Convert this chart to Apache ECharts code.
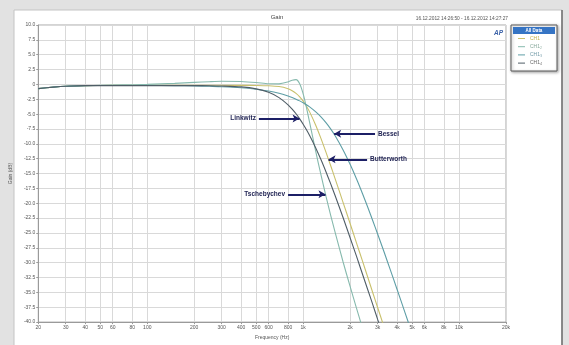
<!DOCTYPE html>
<html>
<head>
<meta charset="utf-8">
<script src="https://cdn.jsdelivr.net/npm/echarts@6/dist/echarts.min.js"></script>
<style>
  html, body { margin: 0; padding: 0; background: #e2e2e2; }
  #chart { width: 569px; height: 345px; }
</style>
</head>
<body>
<div id="chart"></div>
<script>
// Frequency points (Hz) shared by every channel
const freqs = [20, 25, 30, 40, 50, 70, 100, 150, 200, 250, 300, 400, 500, 600, 700, 800, 850, 900, 950,
  1000, 1050, 1100, 1200, 1300, 1400, 1500, 1600, 1800, 2000, 2200, 2400, 2600, 2800, 3000, 3300, 3600,
  4000, 4500, 5000];

// Gain in dB for each filter type (null = below the plotted range)
const butterworth = [-0.7, -0.45, -0.3, -0.2, -0.18, -0.15, -0.15, -0.15, -0.15, -0.15, -0.15, -0.16, -0.17,
  -0.22, -0.36, -0.72, -1.05, -1.5, -2.08, -2.8, -3.66, -4.62, -6.78, -9.08, -11.4, -13.65, -15.8, -19.8,
  -23.4, -26.7, -29.7, -32.5, -35.1, -37.5, -40.8, null, null, null, null];

const tschebychev = [-0.7, -0.45, -0.3, -0.2, -0.15, -0.08, 0.0, 0.18, 0.34, 0.46, 0.53, 0.5, 0.33,
  0.12, 0.1, 0.42, 0.7, 0.8, 0.1, -1.6, -3.9, -6.4, -11.1, -15.2, -18.8, -22.0, -24.8, -29.8,
  -34.0, -37.7, -41.0, null, null, null, null, null, null, null, null];

const bessel = [-0.7, -0.45, -0.3, -0.2, -0.18, -0.17, -0.18, -0.2, -0.25, -0.32, -0.38, -0.56, -0.82,
  -1.12, -1.5, -1.95, -2.2, -2.48, -2.77, -3.08, -3.42, -3.78, -4.58, -5.45, -6.43, -7.48, -8.6, -10.98,
  -13.45, -15.93, -18.37, -20.72, -22.98, -25.13, -28.17, -31.0, -34.47, -38.4, -41.95];

const linkwitz = [-0.7, -0.45, -0.3, -0.2, -0.2, -0.2, -0.2, -0.2, -0.2, -0.22, -0.27, -0.42, -0.75,
  -1.33, -2.22, -3.43, -4.15, -4.94, -5.79, -6.69, -7.63, -8.6, -10.6, -12.65, -14.7, -16.7, -18.65, -22.35,
  -25.8, -28.95, -31.9, -34.6, -37.1, -39.5, -42.8, null, null, null, null];

// Channel names and labelled frequency ticks
const channels = ['CH1', 'CH1\u2082', 'CH1\u2083', 'CH1\u2084'];
const freqTicks = [20, 30, 40, 50, 60, 80, 100, 200, 300, 400, 500, 600, 800, 1000, 2000, 3000, 4000,
  5000, 6000, 8000, 10000, 20000];

// Arrow annotations: [label, start freq, tip freq, gain]
const annotations = {
  linkwitz: ['Linkwitz', 520, 948, -5.75],
  bessel: ['Bessel', 2890, 1580, -8.3],
  butterworth: ['Butterworth', 2570, 1455, -12.6],
  tschebychev: ['Tschebychev', 800, 1390, -18.5]
};

const colors = {
  butterworth: '#c9c06c',
  tschebychev: '#86b9ad',
  bessel: '#5e9ea6',
  linkwitz: '#4f5d66'
};
const legendText = ['#c2b24a', '#86a89a', '#6f98a6', '#666'];

function pairs(vals) {
  const out = [];
  freqs.forEach((f, i) => { if (vals[i] !== null) out.push([f, vals[i]]); });
  return out;
}

function arrow(key) {
  const a = annotations[key];
  return {
    silent: true,
    symbol: ['none', 'arrow'],
    symbolSize: [6, 7],
    animation: false,
    lineStyle: { color: '#1c1f66', width: 1.8, type: 'solid' },
    label: {
      show: true, position: 'start', formatter: a[0], distance: 3,
      color: '#1c1f50', fontSize: 6.5, fontWeight: 'bold', fontFamily: 'Liberation Sans'
    },
    data: [[{ coord: [a[1], a[3]] }, { coord: [a[2], a[3]] }]]
  };
}

function line(name, key, vals) {
  return {
    name: name, type: 'line', data: pairs(vals), smooth: 0.25, symbol: 'none',
    lineStyle: { color: colors[key], width: 1.1 }, itemStyle: { color: colors[key] },
    markLine: arrow(key), animation: false
  };
}

const chart = echarts.init(document.getElementById('chart'), null, { renderer: 'canvas' });
const font = 'Liberation Sans';

chart.setOption({
  backgroundColor: '#e2e2e2',
  textStyle: { fontFamily: font },
  title: {
    text: 'Gain', left: 272, top: 9, textAlign: 'center',
    textStyle: { fontSize: 6, fontWeight: 'normal', color: '#444', fontFamily: font }
  },
  legend: {
    z: 20, zlevel: 0, padding: 0,
    orient: 'vertical', left: 518, top: 36, itemGap: 3.2, itemWidth: 7, itemHeight: 1, icon: 'rect',
    textStyle: { fontSize: 5, fontFamily: font },
    data: channels.map((c, i) => ({ name: c, textStyle: { color: legendText[i] } }))
  },
  graphic: [
    { type: 'rect', z: -1, shape: { x: 14, y: 10, width: 548, height: 340 },
      style: { fill: '#ffffff', stroke: '#c4c4c4', lineWidth: 1 } },
    { type: 'line', z: -1, shape: { x1: 562, y1: 10, x2: 562, y2: 345 },
      style: { stroke: '#6d6d6d', lineWidth: 1.5 } },
    { type: 'text', x: 508, y: 16, style: { text: '16.12.2012 14:26:50 - 16.12.2012 14:27:27',
      align: 'right', fontSize: 4.8, fill: '#555', fontFamily: font } },
    { type: 'text', x: 494, y: 30, style: { text: 'AP', fontSize: 6.5, fontStyle: 'italic',
      fontWeight: 'bold', fill: '#3b62a8', fontFamily: font } },
    { type: 'rect', z: 1, shape: { x: 511, y: 25, width: 46, height: 46 },
      style: { fill: '#ffffff', stroke: '#5a5a5a', lineWidth: 1, shadowBlur: 3, shadowColor: 'rgba(0,0,0,0.35)', shadowOffsetX: 1, shadowOffsetY: 1 } },
    { type: 'rect', z: 2, shape: { x: 513, y: 27, width: 42, height: 7 },
      style: { fill: '#3574c4' } },
    { type: 'text', z: 3, x: 534, y: 28.5, style: { text: 'All Data', align: 'center', fontSize: 4.5,
      fontWeight: 'bold', fill: '#ffffff', fontFamily: font } }
  ],
  grid: {
    left: 38, right: 63, top: 25, bottom: 15, show: true,
    backgroundColor: '#ffffff', borderColor: '#a9a9a9', borderWidth: 1
  },
  xAxis: {
    type: 'log', logBase: 10, min: 20, max: 20000,
    name: 'Frequency (Hz)', nameLocation: 'middle', nameGap: 9,
    nameTextStyle: { fontSize: 5, color: '#555', fontFamily: font },
    axisLine: { show: true, onZero: false, lineStyle: { color: '#9a9a9a' } },
    axisTick: { show: true, length: 2, customValues: freqTicks, lineStyle: { color: '#9a9a9a' } },
    axisLabel: {
      customValues: freqTicks, fontSize: 5, color: '#555', margin: 3, fontFamily: font,
      formatter: v => (v >= 1000 ? (v / 1000) + 'k' : String(v))
    },
    splitLine: { show: true, lineStyle: { color: '#d9d9d9', width: 1 } },
    minorSplitLine: { show: false }
  },
  yAxis: {
    type: 'value', min: -40, max: 10, interval: 2.5,
    name: 'Gain (dB)', nameLocation: 'middle', nameGap: 17,
    nameTextStyle: { fontSize: 5, color: '#555', fontFamily: font },
    axisLine: { show: true, lineStyle: { color: '#9a9a9a' } },
    axisTick: { show: true, length: 2, lineStyle: { color: '#9a9a9a' } },
    axisLabel: {
      fontSize: 5, color: '#555', margin: 3, fontFamily: font,
      formatter: v => (v === 0 ? '0' : v.toFixed(1))
    },
    splitLine: { show: true, lineStyle: { color: '#d9d9d9', width: 1 } }
  },
  series: [
    line(channels[0], 'butterworth', butterworth),
    line(channels[1], 'tschebychev', tschebychev),
    line(channels[2], 'bessel', bessel),
    line(channels[3], 'linkwitz', linkwitz)
  ]
});
</script>
</body>
</html>
